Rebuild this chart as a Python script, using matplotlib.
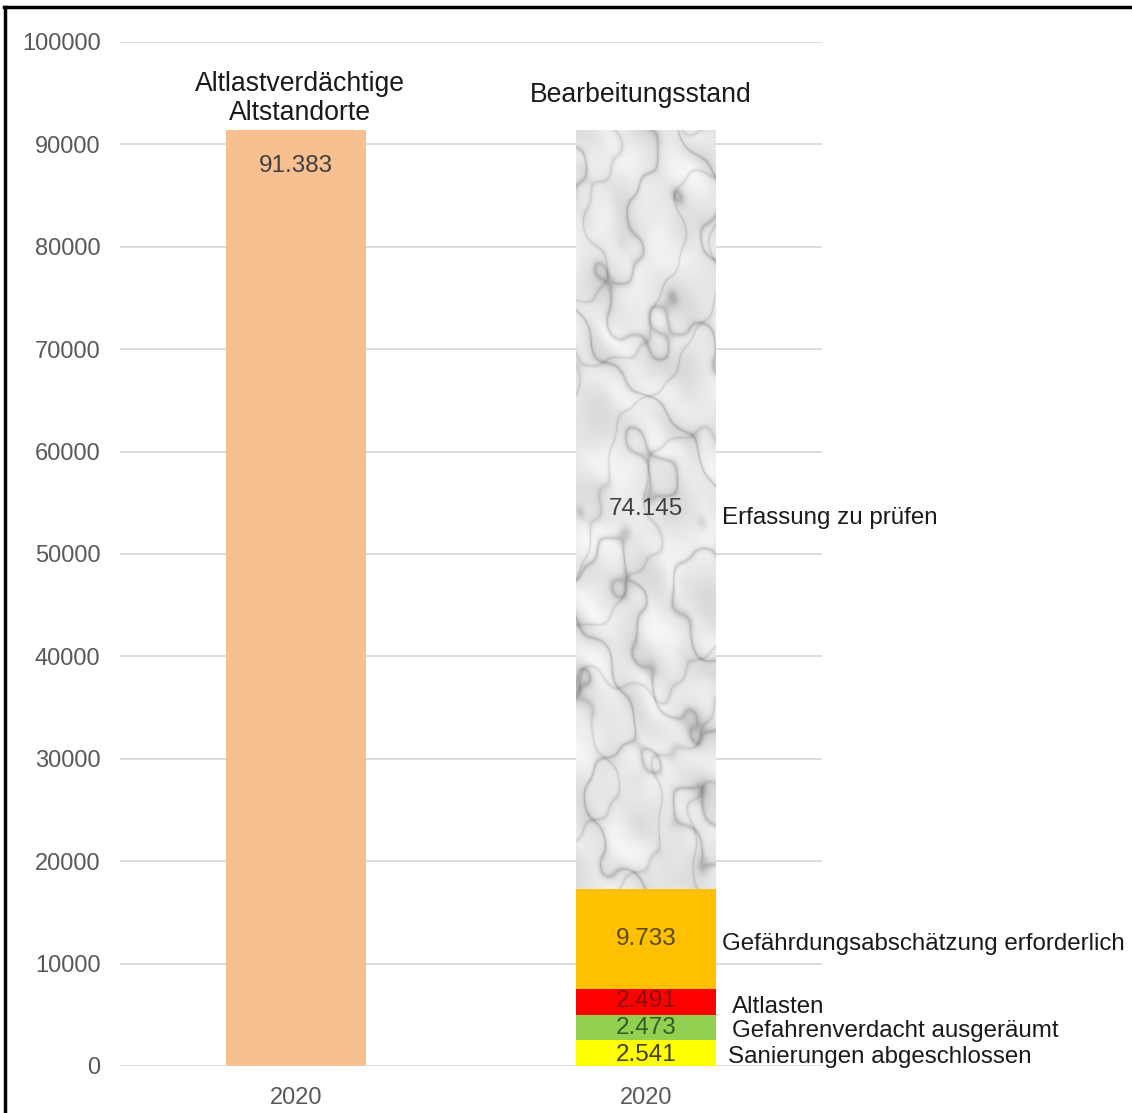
import numpy as np
import matplotlib
matplotlib.use("Agg")
import matplotlib.pyplot as plt
from matplotlib.lines import Line2D

plt.rcParams['font.family'] = ['Liberation Sans', 'DejaVu Sans']

# data
years = ["2020", "2020"]
total = 91383
segments = [2541, 2473, 2491, 9733, 74145]
segment_names = ["Sanierungen abgeschlossen", "Gefahrenverdacht ausgeräumt",
                 "Altlasten", "Gefährdungsabschätzung erforderlich",
                 "Erfassung zu prüfen"]
segment_colors = ["#FFFF00", "#92D050", "#FF0000", "#FFC000", "#E9E9E9"]
value_colors = ["#404020", "#385a2a", "#8a1010", "#5a4a10", "#404040"]
headers = ["Altlastverdächtige\nAltstandorte", "Bearbeitungsstand"]

# label placement (data units)
value_y = [1074, 3711, 6348, 12402, 54395]
name_y = [879, 3418, 5762, 11914, 53516]
name_x = [1.234, 1.246, 1.246, 1.217, 1.217]

fig = plt.figure(figsize=(11.32, 11.13), dpi=100)
ax = fig.add_axes([120/1132, 1-1066/1113, 702/1132, 1024/1113])

w = 0.4
ax.bar(0, total, width=w, color="#F8BF91", zorder=2)
ax.text(0, 87890, "{:,}".format(total).replace(",", "."), ha="center", va="center",
        fontsize=17.5, color="#404040", zorder=4)

bottoms = np.concatenate([[0], np.cumsum(segments)[:-1]])
bars = ax.bar(np.ones(len(segments)), segments, bottom=bottoms, width=w,
              color=segment_colors, zorder=2)

# marble-ish texture on the top segment (deterministic)
top = bars[-1]
u, v = np.meshgrid(np.linspace(0, 1.4, 140), np.linspace(0, 7.4, 740))
turb = (0.6*np.sin(1.7*u + 2.3*v) + 0.45*np.sin(3.1*u - 1.3*v + 1.0)
        + 0.3*np.sin(5.3*u + 4.1*v + 2.0) + 0.18*np.sin(9.7*u - 7.3*v)
        + 0.08*np.sin(17*u + 13*v + 0.5))
cloud = (np.sin(4.3*u + 3.7*v + 1.5*turb) * np.sin(-2.9*u + 5.1*v + 0.7)
         + 0.5*np.sin(11*u + 8*v + 2*turb))
vein1 = np.abs(np.sin(3.0*u + 1.6*v + 2.4*turb))
vein2 = np.abs(np.sin(-3.8*u + 2.4*v + 1.8*turb + 1.0))
tex = (0.95 - 0.20*np.exp(-vein1/0.14) - 0.13*np.exp(-vein2/0.1)
       - 0.04*(1 + cloud))
x0, y0 = top.get_x(), top.get_y()
im = ax.imshow(tex, cmap="gray", vmin=0, vmax=1, aspect="auto", origin="lower",
               extent=[x0, x0 + top.get_width(), y0, y0 + top.get_height()],
               zorder=3, interpolation="bilinear")
im.set_clip_path(top)

for val, vy, ny, nx, nm, vc in zip(segments, value_y, name_y, name_x,
                                   segment_names, value_colors):
    ax.text(1, vy, "{:,}".format(val).replace(",", "."), ha="center", va="center",
            fontsize=17.5, color=vc, zorder=4)
    ax.text(nx, ny, nm, ha="left", va="center", fontsize=17.4, color="#1a1a1a")

ax.text(0.011, 94480, headers[0], ha="center", va="center", fontsize=19.2,
        color="#1a1a1a", linespacing=1.12)
ax.text(0.986, 94824, headers[1], ha="center", va="center", fontsize=19.2,
        color="#1a1a1a")

ax.set_xlim(-0.503, 1.503)
ax.set_ylim(0, 100000)
ax.set_yticks(np.arange(0, 100001, 10000))
ax.set_xticks([0, 1])
ax.set_xticklabels(years)
ax.tick_params(axis="both", length=0, labelsize=17, colors="#595959")
ax.tick_params(axis="y", pad=14)
ax.tick_params(axis="x", pad=15)
ax.grid(axis="y", color="#d9d9d9", lw=1.3, zorder=0)
ax.set_axisbelow(True)
for s in ax.spines.values():
    s.set_visible(False)

fig.add_artist(Line2D([5/1132, 5/1132], [0, 1-7/1113], transform=fig.transFigure,
                      color="black", lw=2.5))
fig.add_artist(Line2D([4/1132, 1], [1-7/1113, 1-7/1113], transform=fig.transFigure,
                      color="black", lw=2.5))

fig.savefig("out.png", dpi=100)
